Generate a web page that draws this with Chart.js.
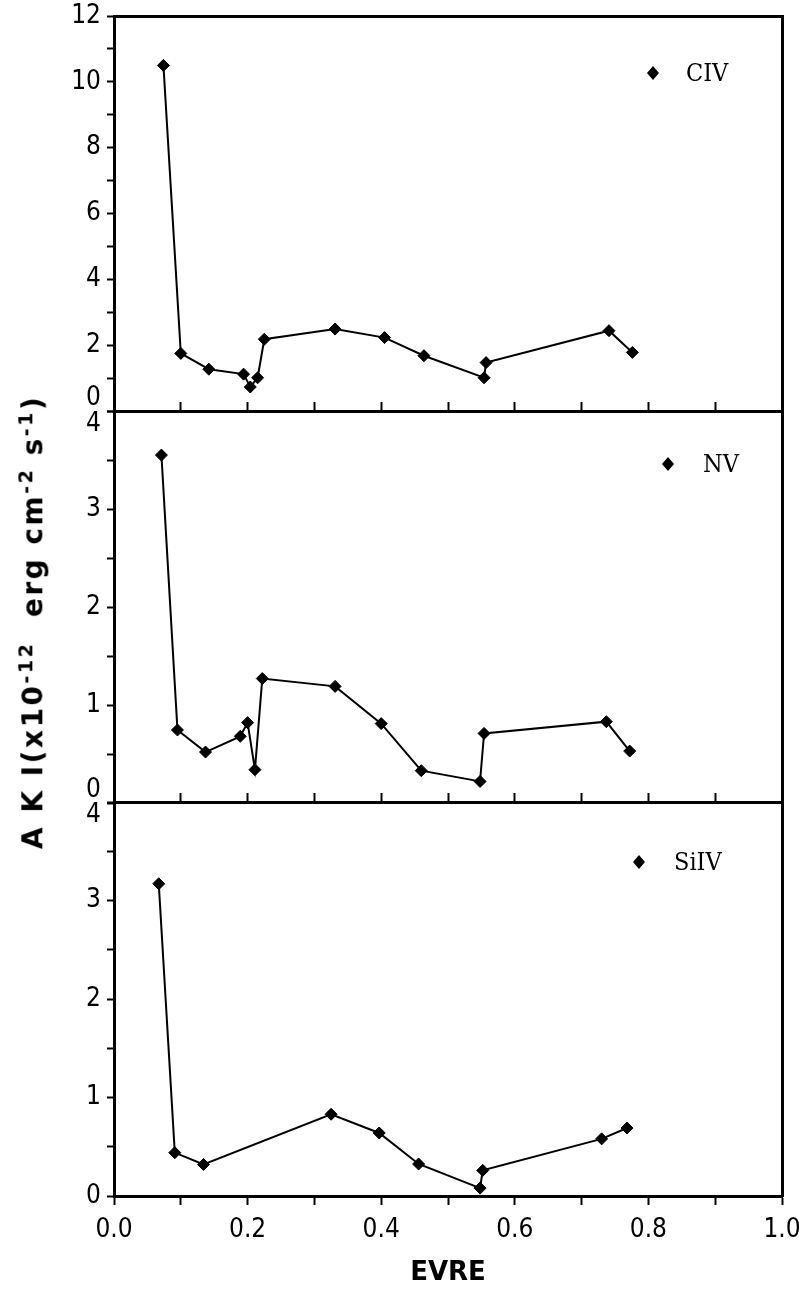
<!DOCTYPE html>
<html lang="tr">
<head>
  <meta charset="UTF-8">
  <title>EVRE - AKI</title>
  <style>
    body { margin: 0; background: #fff; }
    #wrap { position: relative; width: 799px; height: 1291px; overflow: hidden; }
    canvas { position: absolute; left: 0; }
    #ytitle {
      position: absolute; left: 32px; top: 622px;
      transform: translate(-50%, -50%) rotate(-90deg);
      font: bold 28px "DejaVu Sans", sans-serif; letter-spacing: 2.5px;
      white-space: nowrap; color: #000;
    }
    #ytitle sup { font-size: 19px; }
  </style>
</head>
<body>
  <div id="wrap">
    <canvas id="c1" width="799" height="423" style="top:0px"></canvas>
    <canvas id="c2" width="799" height="410" style="top:400px"></canvas>
    <canvas id="c3" width="799" height="501" style="top:790px"></canvas>
    <div id="ytitle">A K I(x10<sup>-12</sup>&nbsp; erg cm<sup>-2</sup> s<sup>-1</sup>)</div>
  </div>

  <script src="https://cdn.jsdelivr.net/npm/chart.js"></script>
  <script>
    // veriler (EVRE'ye gore)
    const civX = [0.074, 0.100, 0.142, 0.194, 0.204, 0.215, 0.225, 0.331, 0.405, 0.464, 0.554, 0.557, 0.741, 0.776];
    const civY = [10.5, 1.75, 1.27, 1.12, 0.73, 1.01, 2.18, 2.49, 2.23, 1.68, 1.01, 1.47, 2.44, 1.78];

    const nvX = [0.071, 0.095, 0.137, 0.189, 0.200, 0.211, 0.222, 0.331, 0.400, 0.460, 0.548, 0.554, 0.737, 0.772];
    const nvY = [3.55, 0.745, 0.52, 0.68, 0.82, 0.34, 1.27, 1.19, 0.81, 0.33, 0.22, 0.71, 0.83, 0.53];

    const siivX = [0.067, 0.091, 0.134, 0.325, 0.397, 0.456, 0.548, 0.552, 0.730, 0.768];
    const siivY = [3.17, 0.44, 0.32, 0.83, 0.64, 0.325, 0.08, 0.26, 0.58, 0.69];

    const xTickLabels = ['0.0', '0.2', '0.4', '0.6', '0.8', '1.0'];
    const seriesNames = ['CIV', 'NV', 'SiIV'];

    const tickFont = { family: '"DejaVu Sans Condensed", "DejaVu Sans", sans-serif', size: 26, lineHeight: 1.0 };
    const black = '#000';

    function pts(xs, ys) {
      return xs.map((x, i) => ({ x: x, y: ys[i] }));
    }

    // panel etiketi (sag ust kosede elmas + isim)
    const panelKey = {
      id: 'panelKey',
      afterDraw(chart, args, opts) {
        const ctx = chart.ctx;
        const y = chart.chartArea.top + opts.dy;
        ctx.save();
        ctx.fillStyle = black;
        ctx.beginPath();
        ctx.moveTo(opts.x, y - 7);
        ctx.lineTo(opts.x + 6, y);
        ctx.lineTo(opts.x, y + 7);
        ctx.lineTo(opts.x - 6, y);
        ctx.closePath();
        ctx.fill();
        ctx.font = '25px "DejaVu Serif Condensed", "DejaVu Serif", serif';
        ctx.textBaseline = 'middle';
        ctx.textAlign = 'left';
        ctx.fillText(opts.label, opts.tx, y + 1);
        ctx.restore();
      }
    };

    function yTicksCb(max, shiftTop, shiftZero) {
      return function (v) {
        const isLabel = (max === 12) ? (Math.round(v) % 2 === 0) : (Math.abs(v - Math.round(v)) < 1e-6);
        if (!isLabel) return '';
        const s = String(Math.round(v));
        if (v === max && shiftTop) return ['', s];
        if (v === 0 && shiftZero) return [s, ''];
        return s;
      };
    }

    function xLabelCb(v) {
      const k = Math.round(v * 10);
      return k % 2 === 0 ? xTickLabels[k / 2] : '';
    }

    function fixW(w) { return s => { s.width = w; s.paddingTop = 0; s.paddingBottom = 0; }; }
    function fixH(h) { return s => { s.height = h; s.paddingLeft = 0; s.paddingRight = 0; }; }

    const border = { display: true, color: black, width: 3 };

    function makePanel(id, name, data, yMax, yStep, cfg) {
      const scales = {
        x: {
          type: 'linear', position: cfg.xPos, min: 0, max: 1,
          ticks: { stepSize: 0.1, display: cfg.xLabels, font: tickFont, color: black, padding: 12, maxRotation: 0, callback: xLabelCb, autoSkip: false },
          grid: { display: cfg.xGrid, drawOnChartArea: false, tickLength: 9, color: black, tickWidth: 2 },
          border: border,
          title: cfg.xTitle ? { display: true, text: 'EVRE', color: black, font: { family: '"DejaVu Sans", sans-serif', size: 26, weight: 'bold' }, padding: { top: 4, bottom: 2 } } : { display: false },
          afterFit: fixH(cfg.xH)
        },
        y: {
          type: 'linear', position: 'left', min: 0, max: yMax,
          ticks: { stepSize: yStep, font: tickFont, color: black, padding: 6, autoSkip: false, callback: yTicksCb(yMax, cfg.shiftTop, cfg.shiftZero) },
          grid: { drawOnChartArea: false, tickLength: 7, color: black, tickWidth: 2 },
          border: border,
          afterFit: fixW(114)
        },
        yr: {
          type: 'linear', position: 'right', min: 0, max: 1,
          ticks: { display: false },
          grid: { display: false },
          border: border,
          afterFit: fixW(17)
        }
      };
      if (cfg.topTicks) {
        scales.xt = {
          type: 'linear', position: 'top', min: 0, max: 1,
          ticks: { stepSize: 0.1, display: false },
          grid: { drawOnChartArea: false, tickLength: 9, color: black, tickWidth: 2 },
          border: border,
          afterFit: fixH(cfg.topH)
        };
      }
      return new Chart(document.getElementById(id), {
        type: 'line',
        data: {
          datasets: [{
            label: name,
            data: data,
            borderColor: black,
            backgroundColor: black,
            borderWidth: 2,
            pointStyle: 'rectRot',
            pointRadius: 6,
            pointBackgroundColor: black,
            pointBorderColor: black,
            pointBorderWidth: 1,
            tension: 0,
            fill: false
          }]
        },
        options: {
          responsive: false,
          animation: false,
          devicePixelRatio: 1,
          layout: { padding: cfg.pad },
          plugins: {
            legend: { display: false },
            tooltip: { enabled: false },
            panelKey: cfg.key
          },
          scales: scales
        },
        plugins: [panelKey]
      });
    }

    makePanel('c1', seriesNames[0], pts(civX, civY), 12, 1, {
      xPos: 'top', xLabels: false, xGrid: false, xH: 16, xTitle: false,
      shiftTop: false, shiftZero: true,
      pad: { top: 0, bottom: 12, left: 0, right: 0 },
      key: { label: seriesNames[0], x: 653, tx: 686, dy: 57 }
    });

    makePanel('c2', seriesNames[1], pts(nvX, nvY), 4, 0.5, {
      xPos: 'top', xLabels: false, xGrid: true, xH: 11, xTitle: false,
      shiftTop: true, shiftZero: true,
      pad: { top: 0, bottom: 7, left: 0, right: 0 },
      key: { label: seriesNames[1], x: 668, tx: 703, dy: 53 }
    });

    makePanel('c3', seriesNames[2], pts(siivX, siivY), 4, 0.5, {
      xPos: 'bottom', xLabels: true, xGrid: true, xH: 95, xTitle: true,
      topTicks: true, topH: 12,
      shiftTop: true, shiftZero: false,
      pad: { top: 0, bottom: 0, left: 0, right: 0 },
      key: { label: seriesNames[2], x: 639, tx: 674, dy: 60 }
    });
  </script>
</body>
</html>
